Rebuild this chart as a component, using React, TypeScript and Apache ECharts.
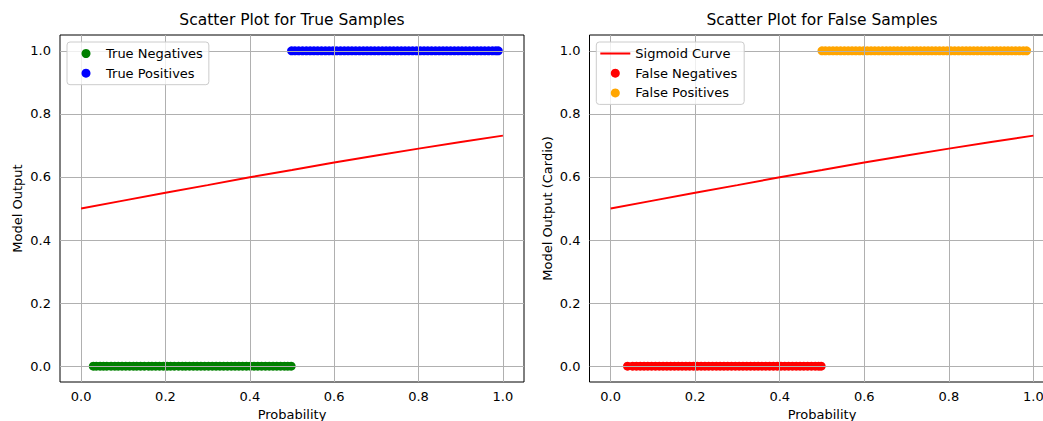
import React, { useEffect, useRef } from "react";
import * as echarts from "echarts";

const FONT = "DejaVu Sans";

const xTicks = [0, 0.2, 0.4, 0.6, 0.8, 1.0];
const yTicks = [0, 0.2, 0.4, 0.6, 0.8, 1.0];

const sigmoidX = [0, 0.1, 0.2, 0.3, 0.4, 0.5, 0.6, 0.7, 0.8, 0.9, 1.0];
const sigmoidY = [0.5, 0.525, 0.55, 0.574, 0.599, 0.622, 0.646, 0.668, 0.69, 0.711, 0.731];

const trueNegX = [
  0.029, 0.036, 0.045, 0.053, 0.061, 0.071, 0.08, 0.088, 0.097, 0.106, 0.115, 0.124, 0.132, 0.141,
  0.15, 0.16, 0.168, 0.177, 0.186, 0.195, 0.204, 0.212, 0.221, 0.231, 0.24, 0.248, 0.257, 0.266,
  0.275, 0.284, 0.293, 0.302, 0.311, 0.32, 0.329, 0.338, 0.347, 0.356, 0.365, 0.374, 0.383, 0.392,
  0.401, 0.41, 0.419, 0.428, 0.437, 0.446, 0.455, 0.464, 0.473, 0.482, 0.49, 0.498,
];
const truePosX = [
  0.499, 0.507, 0.516, 0.525, 0.534, 0.543, 0.552, 0.561, 0.57, 0.579, 0.588, 0.597, 0.606, 0.615,
  0.624, 0.633, 0.642, 0.651, 0.66, 0.669, 0.678, 0.687, 0.696, 0.705, 0.714, 0.723, 0.732, 0.741,
  0.75, 0.759, 0.768, 0.777, 0.786, 0.795, 0.804, 0.813, 0.822, 0.831, 0.84, 0.849, 0.858, 0.867,
  0.876, 0.885, 0.894, 0.903, 0.912, 0.921, 0.93, 0.939, 0.948, 0.957, 0.966, 0.975, 0.983, 0.989,
];
const falseNegX = [
  0.04, 0.052, 0.061, 0.07, 0.079, 0.088, 0.097, 0.106, 0.115, 0.124, 0.133, 0.142, 0.151, 0.16,
  0.169, 0.178, 0.187, 0.196, 0.205, 0.214, 0.223, 0.232, 0.241, 0.25, 0.259, 0.268, 0.277, 0.286,
  0.295, 0.304, 0.313, 0.322, 0.331, 0.34, 0.349, 0.358, 0.367, 0.376, 0.385, 0.394, 0.403, 0.412,
  0.421, 0.43, 0.439, 0.448, 0.457, 0.466, 0.475, 0.484, 0.492, 0.498,
];
const falsePosX = [
  0.5, 0.508, 0.517, 0.526, 0.535, 0.544, 0.553, 0.562, 0.571, 0.58, 0.589, 0.598, 0.607, 0.616,
  0.625, 0.634, 0.643, 0.652, 0.661, 0.67, 0.679, 0.688, 0.697, 0.706, 0.715, 0.724, 0.733, 0.742,
  0.751, 0.76, 0.769, 0.778, 0.787, 0.796, 0.805, 0.814, 0.823, 0.832, 0.841, 0.85, 0.859, 0.868,
  0.877, 0.886, 0.895, 0.904, 0.913, 0.922, 0.931, 0.94, 0.949, 0.958, 0.967, 0.976, 0.984,
];

const textBase = { fontFamily: FONT, fontSize: 13, color: "#000" };

function makeXAxis(gridIndex: number) {
  return {
    type: "value",
    gridIndex,
    min: -0.05,
    max: 1.05,
    name: "Probability",
    nameLocation: "middle",
    nameGap: 23,
    nameTextStyle: { ...textBase },
    axisLine: { show: false },
    axisTick: { show: true, inside: false, length: 4.5, customValues: xTicks, lineStyle: { color: "#000", width: 1 } },
    axisLabel: { ...textBase, margin: 8, customValues: xTicks, formatter: (v: number) => v.toFixed(1) },
    splitLine: { show: false },
  };
}

function makeYAxis(gridIndex: number, name: string) {
  return {
    type: "value",
    gridIndex,
    min: -0.05,
    max: 1.05,
    name,
    nameLocation: "middle",
    nameGap: 36,
    nameRotate: 90,
    nameTextStyle: { ...textBase },
    axisLine: { show: false },
    axisTick: { show: true, inside: false, length: 4.5, customValues: yTicks, lineStyle: { color: "#000", width: 1 } },
    axisLabel: { ...textBase, margin: 9, customValues: yTicks, formatter: (v: number) => v.toFixed(1) },
    splitLine: { show: false },
  };
}

function gridLines(idx: number) {
  return {
    type: "line",
    xAxisIndex: idx,
    yAxisIndex: idx,
    data: [],
    symbol: "none",
    silent: true,
    markLine: {
      silent: true,
      z: 3,
      symbol: ["none", "none"],
      label: { show: false },
      emphasis: { disabled: true },
      lineStyle: { color: "#b0b0b0", width: 1, type: "solid" },
      data: [...xTicks.map((v) => ({ xAxis: v })), ...yTicks.map((v) => ({ yAxis: v }))],
    },
  };
}

function scatter(name: string, xs: number[], y: number, color: string, idx: number) {
  return {
    type: "scatter",
    name,
    xAxisIndex: idx,
    yAxisIndex: idx,
    data: xs.map((x) => [x, y]),
    symbol: "circle",
    symbolSize: 9,
    itemStyle: { color, opacity: 1 },
    z: 2,
    silent: true,
  };
}

function sigmoidLine(idx: number) {
  return {
    type: "line",
    name: "Sigmoid Curve",
    xAxisIndex: idx,
    yAxisIndex: idx,
    data: sigmoidX.map((x, i) => [x, sigmoidY[i]]),
    symbol: "none",
    showSymbol: false,
    lineStyle: { color: "#ff0000", width: 1.9 },
    itemStyle: { color: "#ff0000" },
    z: 4,
    silent: true,
  };
}

const legendBase = {
  orient: "vertical",
  top: 42,
  itemWidth: 30,
  itemHeight: 9,
  itemGap: 6.7,
  backgroundColor: "rgba(255,255,255,0.8)",
  borderColor: "#cccccc",
  borderWidth: 1,
  borderRadius: 3,
  selectedMode: false,
  textStyle: { ...textBase, lineHeight: 13 },
};

const gridBase = {
  show: true,
  borderColor: "#000",
  borderWidth: 1,
  backgroundColor: "transparent",
  containLabel: false,
  outerBoundsMode: "none",
};

export default function App() {
  const ref = useRef<HTMLDivElement>(null);
  useEffect(() => {
    document.body.style.margin = "0";
    document.body.style.overflow = "hidden";
    const chart = echarts.init(ref.current!, undefined, { renderer: "svg" });
    chart.setOption({
      animation: false,
      backgroundColor: "#ffffff",
      textStyle: { fontFamily: FONT },
      grid: [
        { ...gridBase, left: 60, top: 35, width: 464, height: 347 },
        { ...gridBase, left: 589.5, top: 35, width: 465, height: 347 },
      ],
      xAxis: [makeXAxis(0), makeXAxis(1)],
      yAxis: [makeYAxis(0, "Model Output"), makeYAxis(1, "Model Output (Cardio)")],
      legend: [
        {
          ...legendBase,
          left: 67,
          padding: [5, 6, 5, 14.5],
          data: [
            { name: "True Negatives", icon: "circle" },
            { name: "True Positives", icon: "circle" },
          ],
        },
        {
          ...legendBase,
          left: 596.3,
          padding: [5, 7, 5, 4],
          data: [
            { name: "Sigmoid Curve", icon: "path://M0,0 L28,0 L28,1.9 L0,1.9 Z" },
            { name: "False Negatives", icon: "circle" },
            { name: "False Positives", icon: "circle" },
          ],
        },
      ],
      graphic: [
        {
          type: "text",
          x: 292,
          y: 20,
          silent: true,
          style: { text: "Scatter Plot for True Samples", fontFamily: FONT, fontSize: 15.5, fill: "#000", textAlign: "center", textVerticalAlign: "middle" },
        },
        {
          type: "text",
          x: 822,
          y: 20,
          silent: true,
          style: { text: "Scatter Plot for False Samples", fontFamily: FONT, fontSize: 15.5, fill: "#000", textAlign: "center", textVerticalAlign: "middle" },
        },
      ],
      series: [
        scatter("True Negatives", trueNegX, 0, "#008000", 0),
        scatter("True Positives", truePosX, 1, "#0000ff", 0),
        sigmoidLine(0),
        gridLines(0),
        sigmoidLine(1),
        scatter("False Negatives", falseNegX, 0, "#ff0000", 1),
        scatter("False Positives", falsePosX, 1, "#ffa500", 1),
        gridLines(1),
      ],
    });
    return () => chart.dispose();
  }, []);
  return <div ref={ref} style={{ width: 1043, height: 421 }} />;
}
